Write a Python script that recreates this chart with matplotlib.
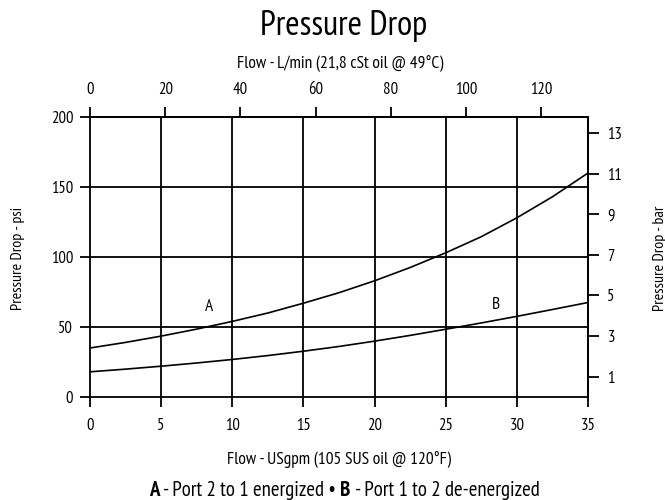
import matplotlib
matplotlib.use("Agg")
import matplotlib.pyplot as plt
from matplotlib import font_manager

# flow in USgpm, pressure drop in psi
flow_gpm = [0, 2.5, 5, 7.5, 10, 12.5, 15, 17.5, 20, 22.5, 25, 27.5, 30, 32.5, 35]
curve_a = [35, 39, 43.5, 48.5, 54, 60, 67, 74.5, 83, 92.5, 103, 114.5, 128, 143, 160]
curve_b = [18, 19.9, 22, 24.3, 26.8, 29.6, 32.7, 36.1, 39.9, 44, 48.4, 52.9, 57.6, 62.5, 67.5]

psi_ticks = [0, 50, 100, 150, 200]
gpm_ticks = [0, 5, 10, 15, 20, 25, 30, 35]
lpm_ticks = [0, 20, 40, 60, 80, 100, 120]
bar_ticks = [1, 3, 5, 7, 9, 11, 13]

GPM_TO_LPM = 3.785
PSI_TO_BAR = 1 / 14.504

names = {f.name for f in font_manager.fontManager.ttflist}
family = "DejaVu Sans"
for cand in ["PT Sans Narrow", "Roboto Condensed", "Fira Sans Condensed",
             "Encode Sans Condensed", "Archivo Narrow", "Liberation Sans Narrow"]:
    if cand in names:
        family = cand
        break
plt.rcParams["font.family"] = [family, "DejaVu Sans"]

fig = plt.figure(figsize=(6.65, 5), dpi=100)
ax = fig.add_axes([90 / 665, 103 / 500, 498 / 665, 280 / 500])

lw = 1.3
ax.plot(flow_gpm, curve_a, color="black", lw=1.2)
ax.plot(flow_gpm, curve_b, color="black", lw=1.2)
ax.text(8.4, 64, "A", fontsize=12.5, ha="center", va="center")
ax.text(28.5, 66, "B", fontsize=12.5, ha="center", va="center")

ax.set_xlim(0, 35)
ax.set_ylim(0, 200)
ax.set_xticks(gpm_ticks)
ax.set_yticks(psi_ticks)
for x in gpm_ticks[1:-1]:
    ax.axvline(x, color="black", lw=lw, zorder=1)
for y in psi_ticks[1:-1]:
    ax.axhline(y, color="black", lw=lw, zorder=1)
for s in ax.spines.values():
    s.set_linewidth(lw)
ax.tick_params(direction="out", length=7, width=lw, labelsize=12)
ax.tick_params(axis="x", pad=8)
ax.tick_params(axis="y", pad=5)

top = ax.secondary_xaxis("top", functions=(lambda x: x * GPM_TO_LPM, lambda x: x / GPM_TO_LPM))
top.set_xticks(lpm_ticks)
top.tick_params(direction="out", length=7, width=lw, labelsize=12, pad=7)
top.spines["top"].set_linewidth(lw)

right = ax.secondary_yaxis("right", functions=(lambda y: y * PSI_TO_BAR, lambda y: y / PSI_TO_BAR))
right.set_yticks(bar_ticks)
right.tick_params(direction="out", length=8, width=lw, labelsize=12, pad=6)
right.spines["right"].set_linewidth(lw)

# axis titles placed in figure pixels as in the reference
fig.text(344 / 665, 1 - 35 / 500, "Pressure Drop", fontsize=25, ha="center", va="baseline")
fig.text(340 / 665, 1 - 64 / 500, "Flow - L/min (21,8 cSt oil @ 49°C)", fontsize=12.5,
         ha="center", va="center")
fig.text(339 / 665, 1 - 460 / 500, "Flow - USgpm (105 SUS oil @ 120°F)", fontsize=12.5,
         ha="center", va="center")
fig.text(18 / 665, 1 - 258 / 500, "Pressure Drop - psi", fontsize=11.5, rotation=90,
         ha="center", va="center")
fig.text(660 / 665, 1 - 258 / 500, "Pressure Drop - bar", fontsize=11.5, rotation=90,
         ha="center", va="center")

# legend line with bold letters, centred under the axes
pieces = [("A", "bold"), (" - Port 2 to 1 energized \u2022 ", "normal"),
          ("B", "bold"), (" - Port 1 to 2 de-energized", "normal")]
legend_y = 1 - 496 / 500
texts = [fig.text(0, legend_y, s, fontsize=15, fontweight=w, va="baseline") for s, w in pieces]
fig.canvas.draw()
r = fig.canvas.get_renderer()
widths = [t.get_window_extent(r).width / fig.bbox.width for t in texts]
x = 344 / 665 - sum(widths) / 2
for t, wd in zip(texts, widths):
    t.set_x(x)
    x += wd

fig.savefig("out.png", dpi=100)
